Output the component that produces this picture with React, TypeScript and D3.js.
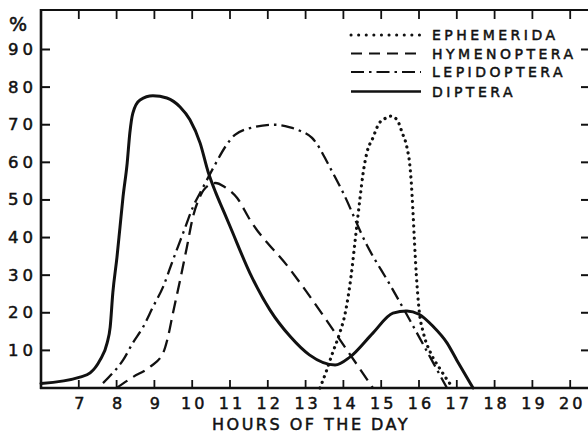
import React from "react";
import * as d3 from "d3";

const yTickValues = [10, 20, 30, 40, 50, 60, 70, 80, 90];
const xTickValues = [7, 8, 9, 10, 11, 12, 13, 14, 15, 16, 17, 18, 19, 20];
const xTopTicks = [7, 8, 9, 10, 11, 12, 13, 14, 15, 16, 17, 18, 19, 20];

const seriesNames = ["EPHEMERIDA", "HYMENOPTERA", "LEPIDOPTERA", "DIPTERA"];

const ephemeridaHours = [13.38, 13.55, 13.72, 13.9, 14.05, 14.2, 14.32, 14.44, 14.52, 14.62, 14.78, 14.94, 15.13, 15.25, 15.42, 15.55, 15.68, 15.76, 15.8, 15.84, 15.88, 15.93, 16.0, 16.12, 16.3, 16.56, 16.9];
const ephemeridaValues = [0, 4.5, 9.5, 14.5, 20, 29.5, 40, 50.5, 57, 62.5, 66.5, 70.3, 71.8, 72.3, 71.3, 68, 64, 59, 54, 47, 39, 30, 21, 14.5, 9.5, 5, 0];

const hymenopteraHours = [8.0, 8.43, 8.88, 9.23, 9.36, 9.49, 9.68, 9.86, 10.02, 10.21, 10.45, 10.62, 10.85, 11.19, 11.53, 12.6, 12.93, 13.91, 14.78];
const hymenopteraValues = [0, 2.9, 5.6, 9.3, 13.6, 19.9, 28.7, 37.5, 45.5, 51, 54, 54.5, 53.5, 50.5, 44.7, 31.4, 26.9, 12.8, 0];

const lepidopteraHours = [7.64, 7.9, 8.17, 8.43, 8.7, 8.96, 9.23, 9.49, 9.76, 10.02, 10.29, 10.6, 10.9, 11.13, 11.66, 12.19, 12.59, 12.85, 13.17, 13.38, 13.51, 13.72, 13.96, 14.62, 15.23, 15.76, 16.37, 16.74];
const lepidopteraValues = [1.3, 4, 7.4, 12, 16.2, 21.5, 26.9, 34, 41.2, 48.1, 53.4, 59.3, 64.5, 67.3, 69.4, 70, 69.3, 68.4, 66.5, 63.6, 61.2, 57.2, 52.6, 38, 27.5, 18, 6.8, 0];

const dipteraHours = [6.0, 7.03, 7.3, 7.56, 7.75, 7.83, 7.9, 8.01, 8.09, 8.17, 8.28, 8.35, 8.43, 8.62, 8.96, 9.33, 9.68, 9.94, 10.21, 10.42, 10.62, 10.81, 11.0, 11.53, 12.06, 12.6, 13.1, 13.78, 14.17, 14.78, 15.31, 15.68, 16.0, 16.37, 16.74, 17.0, 17.43];
const dipteraValues = [1.2, 2.9, 4.0, 7.4, 12, 16.2, 25.3, 34.8, 42.8, 50.8, 59.8, 67.8, 73.1, 76.6, 77.7, 77.1, 74.7, 71.3, 65.1, 57.5, 52, 47.5, 43, 30.5, 20.7, 13.6, 8.8, 6.1, 8.2, 14.6, 19.9, 20.5, 19.6, 16.4, 12, 7.4, 0];

const font = "'DejaVu Sans', sans-serif";

export default function App() {
  const W = 588;
  const H = 433;
  const x = d3.scaleLinear().domain([6, 20]).range([41, 570.2]);
  const y = d3.scaleLinear().domain([0, 90]).range([388, 49.5]);
  const line = d3
    .line<[number, number]>()
    .x((d) => x(d[0]))
    .y((d) => y(d[1]))
    .curve(d3.curveMonotoneX);

  const zip = (h: number[], v: number[]) => h.map((hh, i) => [hh, v[i]] as [number, number]);

  const styles = [
    { dash: "0.1 6", width: 3.2, cap: "round" },
    { dash: "13 7", width: 2.3, cap: "butt" },
    { dash: "13 5 2.5 5", width: 2.3, cap: "butt" },
    { dash: "", width: 3, cap: "round" },
  ];
  const data = [
    zip(ephemeridaHours, ephemeridaValues),
    zip(hymenopteraHours, hymenopteraValues),
    zip(lepidopteraHours, lepidopteraValues),
    zip(dipteraHours, dipteraValues),
  ];

  const left = x(6);
  const bottom = y(0);
  const top = 10;
  const right = W;
  const legendY = [35, 53.5, 72, 91.5];
  const textStroke = { stroke: "#111", strokeWidth: 0.5 };

  return (
    <svg
      width={W}
      height={H}
      viewBox={`0 0 ${W} ${H}`}
      style={{ position: "absolute", left: 0, top: 0, background: "#fff" }}
    >
      <rect x={0} y={0} width={W} height={H} fill="#fff" />
      {/* frame */}
      <line x1={left} y1={top} x2={right} y2={top} stroke="#111" strokeWidth={2.2} />
      <line x1={left} y1={top - 1} x2={left} y2={bottom + 1} stroke="#111" strokeWidth={2.6} />
      <line x1={left - 1} y1={bottom} x2={right} y2={bottom} stroke="#111" strokeWidth={2.6} />

      {/* y ticks left and right */}
      {yTickValues.map((v) => (
        <g key={"y" + v}>
          <line x1={left} x2={left + 9} y1={y(v)} y2={y(v)} stroke="#111" strokeWidth={2} />
          <line x1={right - 7} x2={right} y1={y(v)} y2={y(v)} stroke="#111" strokeWidth={2} />
          <text
            x={37}
            y={y(v)}
            textAnchor="end"
            dominantBaseline="central"
            fontFamily={font}
            fontSize={16.5}
            letterSpacing={4}
            fill="#111"
            {...textStroke}
          >
            {v}
          </text>
        </g>
      ))}
      <text x={9} y={31} fontFamily={font} fontSize={19} fill="#111" {...textStroke}>
        %
      </text>

      {/* x ticks bottom & top */}
      {xTickValues.map((h) => (
        <g key={"x" + h}>
          <line x1={x(h)} x2={x(h)} y1={bottom} y2={bottom - 8} stroke="#111" strokeWidth={1.8} />
          <text
            x={x(h) + 2}
            y={409}
            textAnchor="middle"
            fontFamily={font}
            fontSize={16}
            letterSpacing={3}
            fill="#111"
            {...textStroke}
          >
            {h}
          </text>
        </g>
      ))}
      {xTopTicks.map((h) => (
        <line key={"t" + h} x1={x(h)} x2={x(h)} y1={top} y2={top + 9} stroke="#111" strokeWidth={1.8} />
      ))}
      <text x={212} y={430} fontFamily={font} fontSize={16} letterSpacing={2.5} fill="#111" {...textStroke}>
        HOURS OF THE DAY
      </text>

      {/* curves */}
      {data.map((d, i) => (
        <path
          key={"s" + i}
          d={line(d) || ""}
          fill="none"
          stroke="#111"
          strokeWidth={styles[i].width}
          strokeDasharray={styles[i].dash}
          strokeLinecap={styles[i].cap as any}
          strokeLinejoin="round"
        />
      ))}

      {/* legend */}
      {seriesNames.map((name, i) => (
        <g key={"l" + i}>
          <line
            x1={351}
            x2={421}
            y1={legendY[i]}
            y2={legendY[i]}
            stroke="#111"
            strokeWidth={i === 0 ? 3 : i === 3 ? 2.6 : 2}
            strokeDasharray={i === 0 ? "0.1 7.5" : i === 1 ? "11 7" : i === 2 ? "13 5 2.5 5" : ""}
            strokeLinecap={i === 0 ? "round" : "butt"}
          />
          <text
            x={432}
            y={legendY[i]}
            dominantBaseline="central"
            fontFamily={font}
            fontSize={14}
            letterSpacing={3.5}
            fill="#111"
            {...textStroke}
          >
            {name}
          </text>
        </g>
      ))}
    </svg>
  );
}
